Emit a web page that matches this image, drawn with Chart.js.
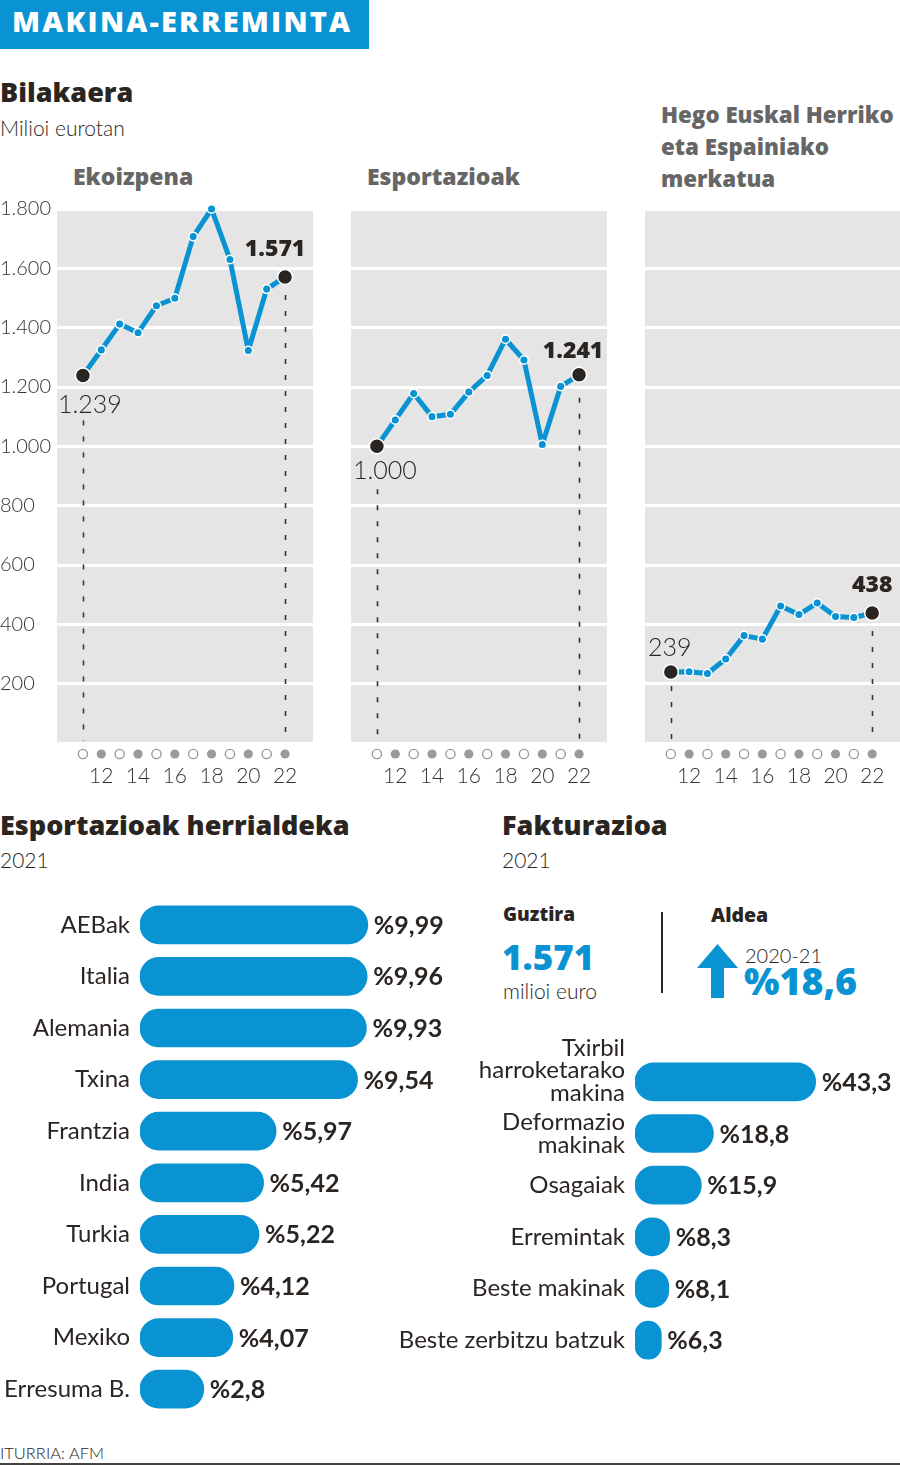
<!DOCTYPE html>
<html><head><meta charset="utf-8">
<script src="https://cdn.jsdelivr.net/npm/chart.js@4.4.0/dist/chart.umd.min.js"></script>
<style>
html,body{margin:0;padding:0;background:#fff;}
body{width:900px;height:1466px;position:relative;overflow:hidden;font-family:Lato,"Open Sans",sans-serif;color:#2b2522;}
.t{position:absolute;white-space:nowrap;line-height:1;}
.h{font-family:"Open Sans",Lato,sans-serif;font-weight:800;}
canvas{position:absolute;}
</style></head><body>

<div style="position:absolute;left:0;top:0;width:369px;height:49px;background:#0a93d2;"></div>
<div class="t h" style="left:12px;top:6px;font-size:29px;color:#fff;letter-spacing:2.2px;">MAKINA-ERREMINTA</div>

<div class="t h" style="left:0;top:78px;font-size:27px;">Bilakaera</div>
<div class="t" style="left:0;top:117px;font-size:21px;font-weight:300;">Milioi eurotan</div>

<div class="t h" style="left:73px;top:165px;font-size:23px;color:#666;">Ekoizpena</div>
<div class="t h" style="left:367px;top:165px;font-size:23px;color:#666;">Esportazioak</div>
<div class="t h" style="left:661px;top:99px;font-size:22.3px;color:#666;line-height:32px;">Hego Euskal Herriko<br>eta Espainiako<br>merkatua</div>

<div class="t h" style="left:0;top:811px;font-size:27px;">Esportazioak herrialdeka</div>
<div class="t" style="left:0;top:849px;font-size:21px;font-weight:300;">2021</div>
<div class="t h" style="left:502px;top:811px;font-size:27px;">Fakturazioa</div>
<div class="t" style="left:502px;top:849px;font-size:21px;font-weight:300;">2021</div>

<div class="t h" style="left:503px;top:905px;font-size:19px;">Guztira</div>
<div class="t h" style="left:502px;top:939px;font-size:35px;color:#0a93d2;">1.571</div>
<div class="t" style="left:503px;top:980px;font-size:21px;font-weight:300;">milioi euro</div>
<div style="position:absolute;left:661px;top:912px;width:1.5px;height:81px;background:#2b2522;"></div>
<div class="t h" style="left:711px;top:905px;font-size:19.5px;">Aldea</div>
<svg style="position:absolute;left:697px;top:944px;" width="41" height="54" viewBox="0 0 41 54"><polygon points="20.5,0 41,24 27,24 27,54 14,54 14,24 0,24" fill="#0a93d2"/></svg>
<div class="t" style="left:745px;top:945px;font-size:20px;font-weight:300;">2020-21</div>
<div class="t h" style="left:744px;top:962px;font-size:37.5px;color:#0a93d2;">%18,6</div>

<div class="t" style="left:0;top:1445px;font-size:16.5px;font-weight:300;">ITURRIA: AFM</div>
<div style="position:absolute;left:0;top:1463px;width:900px;height:1.5px;background:#444;"></div>

<canvas id="c1" width="313" height="610" style="left:0;top:190px;"></canvas>
<canvas id="c2" width="256" height="610" style="left:351px;top:190px;"></canvas>
<canvas id="c3" width="255" height="610" style="left:645px;top:190px;"></canvas>
<canvas id="b1" width="470" height="536" style="left:0;top:889px;"></canvas>
<canvas id="b2" width="510" height="340" style="left:390px;top:1026px;"></canvas>

<script>
// ---- data ----
const years = [2011,2012,2013,2014,2015,2016,2017,2018,2019,2020,2021,2022];
const yTickValues = [0,200,400,600,800,1000,1200,1400,1600,1800];
const ekoizpena = [1239,1325,1412,1383,1474,1499,1707,1800,1630,1323,1530,1571];
const esportazioak = [1000,1089,1178,1100,1108,1183,1239,1361,1291,1006,1202,1241];
const merkatua = [239,240,234,283,362,350,462,433,472,426,423,438];

const countries = ['AEBak','Italia','Alemania','Txina','Frantzia','India','Turkia','Portugal','Mexiko','Erresuma B.'];
const countryShares = [9.99,9.96,9.93,9.54,5.97,5.42,5.22,4.12,4.07,2.8];

const segments = [['Txirbil','harroketarako','makina',''],['Deformazio','makinak'],'Osagaiak','Erremintak','Beste makinak','Beste zerbitzu batzuk'];
const segmentShares = [43.3,18.8,15.9,8.3,8.1,6.3];

// ---- style ----
const BLUE = '#0a93d2';
const DARK = '#2b2522';
const FONT = 'Lato, "Open Sans", sans-serif';
const HFONT = '"Open Sans", Lato, sans-serif';

function fmt(v){ return String(v).replace(/\B(?=(\d{3})+(?!\d))/g,'.'); }
function pct(v){ return '%' + String(v).replace('.',','); }
function noPad(s){ s.paddingLeft=0; s.paddingRight=0; s.paddingTop=0; s.paddingBottom=0; }

const panelPlugin = {
  id:'panel',
  beforeDraw(c){
    const a=c.chartArea, ctx=c.ctx;
    ctx.save(); ctx.fillStyle='#e5e5e5';
    ctx.fillRect(a.left,a.top,a.right-a.left,a.bottom-a.top);
    ctx.restore();
  }
};

function decoPlugin(o){
  return {
    id:'deco',
    beforeDatasetsDraw(c){
      const ctx=c.ctx, a=c.chartArea, meta=c.getDatasetMeta(0);
      const p0=meta.data[0], p1=meta.data[meta.data.length-1];
      ctx.save();
      ctx.strokeStyle='#333'; ctx.lineWidth=1.6; ctx.setLineDash([5,11]);
      [[p0,o.startGap],[p1,o.endGap]].forEach(([p,g])=>{
        ctx.beginPath(); ctx.moveTo(Math.round(p.x)+0.5,p.y+g); ctx.lineTo(Math.round(p.x)+0.5,a.bottom-2); ctx.stroke();
      });
      ctx.restore();
    },
    afterDatasetsDraw(c){
      const ctx=c.ctx, meta=c.getDatasetMeta(0), d=c.data.datasets[0].data;
      const p0=meta.data[0], p1=meta.data[meta.data.length-1];
      ctx.save();
      ctx.textAlign='center'; ctx.textBaseline='middle'; ctx.fillStyle=DARK;
      ctx.font='300 25px '+FONT;
      ctx.fillText(fmt(d[0].y), p0.x+o.start[0], p0.y+o.start[1]);
      ctx.font='800 23px '+HFONT;
      ctx.fillText(fmt(d[d.length-1].y), p1.x+o.end[0], p1.y+o.end[1]);
      ctx.restore();
    },
    afterDraw(c){
      const ctx=c.ctx, xs=c.scales.x, y=c.chartArea.bottom+11;
      ctx.save();
      years.forEach(yr=>{
        const x=xs.getPixelForValue(yr);
        ctx.beginPath(); ctx.arc(x,y,4.6,0,Math.PI*2);
        if(yr%2===0){ ctx.fillStyle='#9a9a9a'; ctx.fill(); }
        else { ctx.fillStyle='#fff'; ctx.fill(); ctx.strokeStyle='#9a9a9a'; ctx.lineWidth=1.4; ctx.stroke(); }
      });
      ctx.restore();
    }
  };
}

function lineChart(id, values, o){
  const last=values.length-1;
  return new Chart(document.getElementById(id), {
    type:'line',
    data:{ datasets:[{
      data: years.map((y,i)=>({x:y,y:values[i]})),
      borderColor:BLUE, borderWidth:5, tension:0, clip:false,
      borderJoinStyle:'round', borderCapStyle:'round',
      pointRadius: values.map((v,i)=> (i===0||i===last) ? 7.5 : 4.3),
      pointBackgroundColor: values.map((v,i)=> (i===0||i===last) ? DARK : BLUE),
      pointBorderColor:'#fff', pointBorderWidth:1.5
    }]},
    options:{
      responsive:false, animation:false, events:[],
      layout:{autoPadding:false, padding:{top:19,left:0,right:0,bottom:0}},
      plugins:{legend:{display:false}, tooltip:{enabled:false}},
      scales:{
        x:{ type:'linear', min:2009.59, max:2023.52,
            grid:{display:false, drawTicks:false}, border:{display:false},
            afterBuildTicks:s=>{ s.ticks = years.map(v=>({value:v})); },
            afterFit:s=>{ s.height=57; noPad(s); },
            ticks:{ autoSkip:false, maxRotation:0, padding:21, color:'#333',
                    font:{size:21,family:FONT,weight:300}, callback:v=> v%2===0 ? String(v).slice(2) : '' } },
        y:{ min:0, max:1800,
            afterBuildTicks:s=>{ s.ticks = yTickValues.map(v=>({value:v})); },
            afterFit:s=>{ s.width=o.yWidth; noPad(s); },
            grid:{color:'#fff', lineWidth:3, drawTicks:false}, border:{display:false},
            ticks:{ display:o.showY, crossAlign:'far', padding:0, color:'#333',
                    font:{size:20,family:FONT,weight:300}, callback:v=> v===0 ? '' : fmt(v) } }
      }
    },
    plugins:[panelPlugin, decoPlugin(o)]
  });
}

lineChart('c1', ekoizpena, {yWidth:57, showY:true, start:[7,30], end:[-10,-27], startGap:45, endGap:18});
lineChart('c2', esportazioak, {yWidth:0, showY:false, start:[8,25], end:[-6,-23], startGap:43, endGap:23});
lineChart('c3', merkatua, {yWidth:0, showY:false, start:[-1,-24], end:[0,-28], startGap:14, endGap:18});

const valuePlugin = {
  id:'values',
  afterDatasetsDraw(c){
    const ctx=c.ctx, meta=c.getDatasetMeta(0), d=c.data.datasets[0].data;
    ctx.save();
    ctx.font='700 25px '+FONT; ctx.fillStyle=DARK; ctx.textAlign='left'; ctx.textBaseline='middle';
    meta.data.forEach((b,i)=>{ ctx.fillText(pct(d[i]), b.x+6, b.y+1); });
    ctx.restore();
  }
};

function barChart(id, labels, values, o){
  return new Chart(document.getElementById(id), {
    type:'bar',
    data:{ labels, datasets:[{ data:values, backgroundColor:BLUE, borderRadius:19, borderSkipped:false, barThickness:38 }]},
    options:{
      indexAxis:'y', responsive:false, animation:false, events:[],
      layout:{autoPadding:false, padding:{top:o.padTop,bottom:o.padBottom,left:0,right:0}},
      plugins:{legend:{display:false}, tooltip:{enabled:false}},
      scales:{
        x:{ display:false, min:0, max:o.max },
        y:{ grid:{display:false, drawTicks:false}, border:{display:false},
            afterFit:s=>{ s.width=o.yWidth; noPad(s); },
            ticks:{ padding:10, color:DARK, autoSkip:false, font:{size:24,family:FONT,weight:400,lineHeight:0.94} } }
      }
    },
    plugins:[valuePlugin]
  });
}

// left: rows centred 925..1389 (pitch 51.55)
barChart('b1', countries, countryShares, {yWidth:140, max:14.47, padTop:10, padBottom:10});
// right: rows centred 1082..1340 (pitch 51.6)
barChart('b2', segments, segmentShares, {yWidth:245, max:63.5, padTop:30, padBottom:0});
</script>
</body></html>
